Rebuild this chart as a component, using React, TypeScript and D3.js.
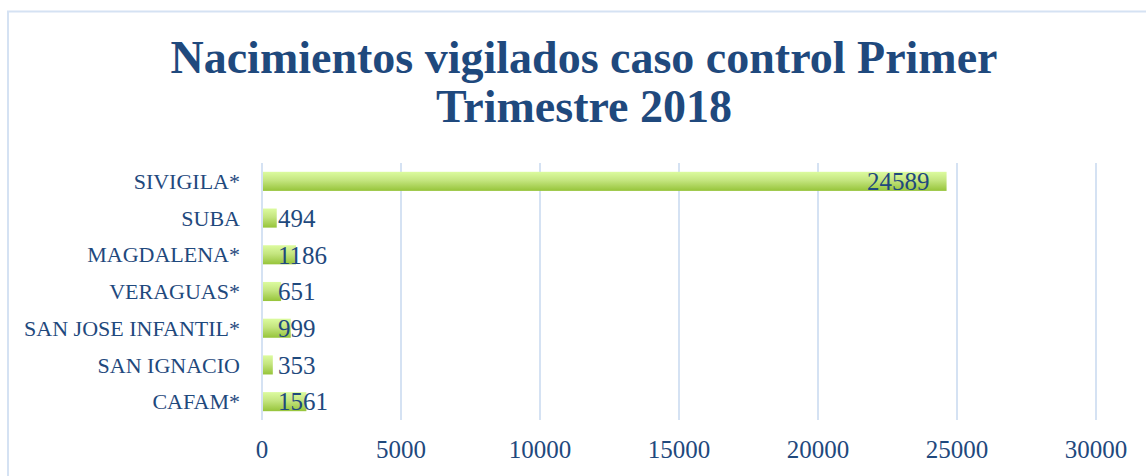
import React, { useEffect, useRef } from "react";
import * as d3 from "d3";

const categories = ["SIVIGILA*", "SUBA", "MAGDALENA*", "VERAGUAS*", "SAN JOSE INFANTIL*", "SAN IGNACIO", "CAFAM*"];
const values = [24589, 494, 1186, 651, 999, 353, 1561];
const ticks = [0, 5000, 10000, 15000, 20000, 25000, 30000];
const titleLines = ["Nacimientos vigilados caso control Primer", "Trimestre 2018"];

const W = 1146;
const H = 476;
const FONT = "'Liberation Serif', 'DejaVu Serif', serif";
const TEXT = "#1f497d";

export default function App() {
  const ref = useRef<SVGSVGElement | null>(null);
  useEffect(() => {
    document.body.style.margin = "0";
    const svg = d3.select(ref.current);
    svg.selectAll("*").remove();

    const defs = svg.append("defs");
    const g = defs.append("linearGradient").attr("id", "barGrad").attr("x1", 0).attr("y1", 0).attr("x2", 0).attr("y2", 1);
    g.append("stop").attr("offset", "0%").attr("stop-color", "#dcfb9f");
    g.append("stop").attr("offset", "45%").attr("stop-color", "#c4e57f");
    g.append("stop").attr("offset", "100%").attr("stop-color", "#96c43a");

    svg.append("rect").attr("x", 0).attr("y", 0).attr("width", W).attr("height", H).attr("fill", "#fff");
    // frame
    svg.append("path").attr("d", `M8,${H} L8,11.5 L${W},11.5`).attr("fill", "none").attr("stroke", "#d5e2f3").attr("stroke-width", 2);

    const x = d3.scaleLinear().domain([0, 30000]).range([262, 1096]);
    const y = d3.scaleBand<string>().domain(categories).range([163, 420]).paddingInner(0.48).paddingOuter(0.24);

    // title
    const t = svg.append("text").attr("font-family", FONT).attr("font-weight", "bold").attr("font-size", 46).attr("fill", TEXT).attr("text-anchor", "middle");
    titleLines.forEach((l, i) => {
      t.append("tspan").attr("x", 584).attr("y", 73 + i * 49).text(l);
    });

    // grid
    svg.append("g").selectAll("line").data(ticks).join("line")
      .attr("x1", d => x(d)).attr("x2", d => x(d)).attr("y1", 163).attr("y2", 420)
      .attr("stroke", "#d5e2f3").attr("stroke-width", 2);

    // bars
    svg.append("g").selectAll("rect").data(values).join("rect")
      .attr("x", x(0) + 1).attr("y", (d, i) => y(categories[i])!)
      .attr("width", d => x(d) - x(0)).attr("height", y.bandwidth())
      .attr("fill", "url(#barGrad)");

    // category labels
    svg.append("g").selectAll("text").data(categories).join("text")
      .attr("x", 240).attr("y", d => y(d)! + y.bandwidth() / 2).attr("dy", "0.35em")
      .attr("text-anchor", "end").attr("font-family", FONT).attr("font-size", 22).attr("fill", TEXT).text(d => d);

    // value labels
    const vl = svg.append("g").selectAll("text").data(values).join("text")
      .attr("y", (d, i) => y(categories[i])! + y.bandwidth() / 2).attr("dy", "0.35em")
      .attr("font-family", FONT).attr("font-size", 25).attr("fill", TEXT).text(d => String(d));
    vl.each(function (d) {
      const el = this as SVGTextElement;
      const w = el.getComputedTextLength();
      el.setAttribute("x", String(Math.max(x(d) - 16 - w, x(0) + 16)));
    });

    // axis labels
    svg.append("g").selectAll("text").data(ticks).join("text")
      .attr("x", d => x(d)).attr("y", 458).attr("text-anchor", "middle")
      .attr("font-family", FONT).attr("font-size", 25).attr("fill", TEXT).text(d => String(d));
  }, []);
  return <svg ref={ref} width={W} height={H} style={{ display: "block" }} />;
}
